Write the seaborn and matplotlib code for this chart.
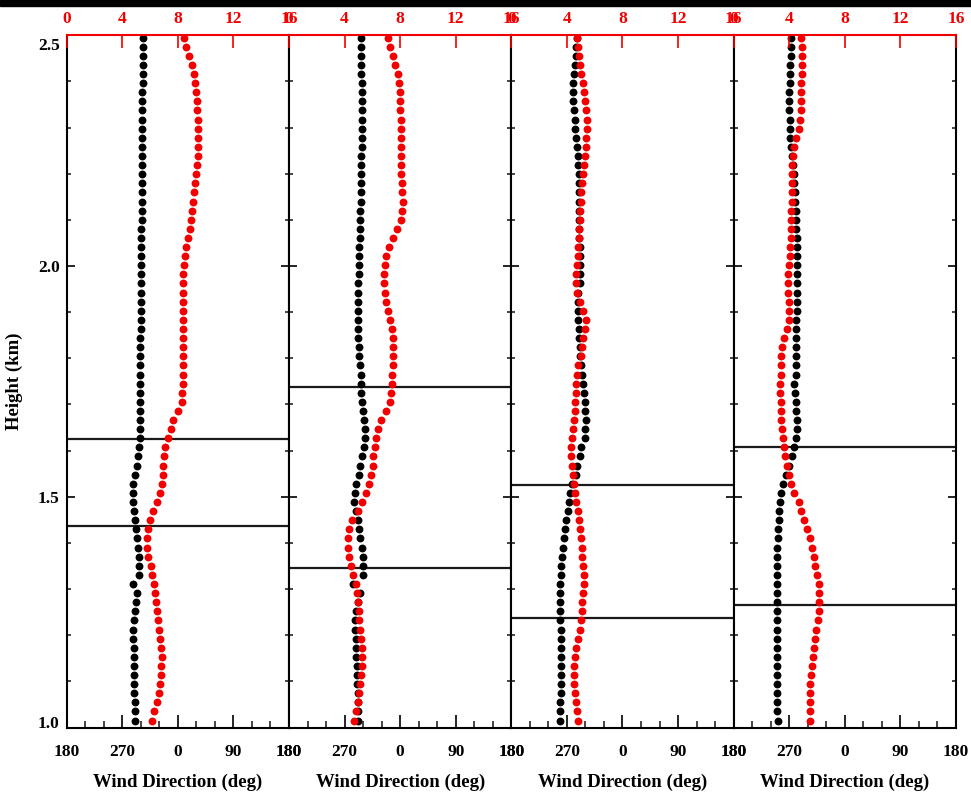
import numpy as np
import pandas as pd
import matplotlib
matplotlib.use("Agg")
import matplotlib.pyplot as plt
from matplotlib.patches import Rectangle
from matplotlib.ticker import FixedLocator, MultipleLocator, NullLocator
from matplotlib.transforms import ScaledTranslation
import seaborn as sns

# ---------------------------------------------------------------------------
# Profile data: four soundings, each listed from the top of the profile
# (about 2.5 km) downward in ~20 m steps.
# ---------------------------------------------------------------------------
heights = np.linspace(2.495, 1.015, 76)

# wind direction (deg, 180..540 axis: 270 = W, 360 = N)
direction_1 = [
    303.1, 303.1, 303.1, 303.1, 303.1, 303.1, 302.6, 302.6, 302.6, 302.6,
    302.6, 302.6, 302.0, 302.0, 302.0, 302.0, 302.0, 301.5, 301.5, 301.5,
    301.5, 301.0, 301.0, 301.0, 301.0, 300.4, 300.4, 300.4, 300.4, 299.9,
    299.9, 299.9, 299.9, 299.3, 299.3, 299.3, 298.8, 298.8,
    298.8, 298.8, 298.8, 298.8, 298.8, 298.8, 298.8, 297.7, 295.0, 293.4,
    290.7, 288.0, 286.9, 286.9, 289.1, 290.7, 292.3, 294.5, 296.1, 297.7,
    297.7, 297.7, 288.0, 293.4, 292.3, 290.7, 289.1, 288.0, 288.0, 289.1,
    289.1, 289.1, 289.6, 289.6, 289.6, 290.2, 290.7, 290.7,
]
direction_2 = [
    297.2, 297.2, 297.2, 297.2, 297.2, 297.7, 297.7, 297.7, 297.7, 297.7,
    297.7, 297.7, 297.7, 297.2, 297.2, 297.2, 297.2, 297.2, 297.2, 295.6,
    295.6, 295.6, 295.6, 293.9, 293.9, 293.9, 293.9, 292.3, 292.3, 292.3,
    292.3, 291.2, 291.2, 291.2, 292.9, 292.9, 294.5, 296.1,
    296.6, 297.2, 298.3, 299.9, 301.5, 302.6, 302.6, 301.0, 298.3, 294.5,
    292.9, 289.1, 287.5, 285.8, 289.1, 291.8, 292.9, 295.6, 298.3, 299.3,
    299.9, 299.9, 284.2, 295.6, 291.2, 289.1, 287.5, 287.5, 288.0, 288.5,
    289.1, 289.6, 290.2, 290.2, 291.2, 291.2, 291.8, 291.2,
]
direction_3 = [
    286.4, 285.3, 284.2, 282.6, 281.0, 279.9, 279.9, 279.9, 281.0, 282.6,
    283.7, 285.3, 286.4, 287.5, 288.5, 289.1, 289.6, 289.6, 289.6, 289.6,
    289.6, 289.6, 290.2, 290.7, 291.2, 291.8, 291.8, 290.7, 288.5, 288.0,
    288.0, 288.5, 289.6, 289.6, 290.7, 291.8, 292.9, 293.9,
    296.1, 297.2, 298.8, 299.9, 300.4, 299.9, 298.8, 292.3, 290.7, 286.9,
    284.2, 278.8, 274.5, 272.9, 271.8, 269.1, 266.9, 265.9, 263.7, 262.1,
    261.0, 260.5, 259.4, 259.4, 259.4, 259.4, 259.4, 259.9, 259.9, 259.9,
    259.9, 259.9, 259.9, 259.9, 259.9, 259.4, 259.4, 259.4,
]
direction_4 = [
    272.9, 273.4, 272.9, 271.8, 271.3, 270.7, 270.2, 270.2, 270.2, 270.7,
    270.7, 271.8, 272.9, 274.5, 276.1, 277.2, 278.3, 279.4, 279.9, 280.4,
    281.0, 281.5, 282.0, 282.6, 282.6, 282.6, 282.6, 282.6, 282.6, 282.6,
    282.0, 281.5, 281.5, 281.0, 280.4, 280.4, 280.4, 280.4,
    278.3, 279.4, 280.4, 281.5, 282.6, 282.6, 281.5, 278.3, 275.0, 270.2,
    264.2, 259.9, 257.2, 255.1, 254.0, 252.9, 251.8, 251.3, 250.2, 250.2,
    250.2, 250.2, 250.2, 250.2, 250.2, 250.2, 250.2, 250.2, 250.2, 250.2,
    250.2, 250.2, 250.2, 250.2, 250.2, 250.2, 250.2, 251.3,
]

# wind speed (m/s)
speed_1 = [
    8.45, 8.59, 8.81, 9.00, 9.17, 9.26, 9.34, 9.38, 9.41, 9.43,
    9.46, 9.48, 9.46, 9.43, 9.38, 9.31, 9.24, 9.17, 9.10, 9.02,
    8.98, 8.86, 8.76, 8.59, 8.50, 8.45, 8.40, 8.38, 8.35, 8.35,
    8.38, 8.40, 8.40, 8.40, 8.40, 8.38, 8.35, 8.35,
    8.35, 8.33, 8.30, 8.04, 7.68, 7.49, 7.27, 7.08, 7.01, 6.96,
    6.94, 6.89, 6.72, 6.48, 6.24, 6.00, 5.83, 5.76, 5.81, 5.88,
    6.05, 6.17, 6.29, 6.36, 6.43, 6.53, 6.60, 6.67, 6.72, 6.79,
    6.84, 6.82, 6.77, 6.72, 6.62, 6.48, 6.29, 6.12,
]
speed_2 = [
    7.10, 7.25, 7.49, 7.66, 7.82, 7.92, 7.97, 8.02, 8.02, 8.04,
    8.04, 8.06, 8.06, 8.06, 8.09, 8.09, 8.11, 8.16, 8.18, 8.16,
    8.04, 7.78, 7.49, 7.20, 7.01, 6.89, 6.84, 6.84, 6.89, 6.98,
    7.13, 7.30, 7.39, 7.46, 7.49, 7.49, 7.46, 7.42,
    7.44, 7.37, 7.25, 7.01, 6.62, 6.41, 6.26, 6.17, 6.07, 6.02,
    5.93, 5.76, 5.54, 5.23, 4.94, 4.56, 4.34, 4.25, 4.22, 4.30,
    4.44, 4.61, 4.85, 4.92, 4.97, 5.02, 5.06, 5.14, 5.18, 5.23,
    5.26, 5.26, 5.21, 5.14, 5.06, 4.99, 4.85, 4.66,
]
speed_3 = [
    4.75, 4.80, 4.87, 4.97, 5.04, 5.16, 5.23, 5.33, 5.40, 5.45,
    5.45, 5.40, 5.35, 5.28, 5.21, 5.16, 5.11, 5.04, 4.99, 4.97,
    4.92, 4.87, 4.85, 4.82, 4.80, 4.75, 4.68, 4.63, 4.73, 4.92,
    5.16, 5.35, 5.28, 5.16, 5.09, 4.99, 4.82, 4.73,
    4.68, 4.63, 4.58, 4.56, 4.49, 4.44, 4.39, 4.32, 4.32, 4.37,
    4.44, 4.49, 4.56, 4.68, 4.80, 4.87, 4.92, 4.99, 5.06, 5.11,
    5.16, 5.21, 5.21, 5.16, 5.11, 5.09, 5.04, 4.92, 4.80, 4.68,
    4.56, 4.51, 4.51, 4.54, 4.58, 4.63, 4.73, 4.82,
]
speed_4 = [
    4.85, 4.90, 4.90, 4.90, 4.90, 4.87, 4.87, 4.87, 4.85, 4.80,
    4.68, 4.51, 4.37, 4.27, 4.22, 4.20, 4.20, 4.18, 4.18, 4.15,
    4.15, 4.13, 4.13, 4.08, 4.03, 3.98, 3.94, 3.91, 3.94, 3.98,
    4.01, 3.96, 3.84, 3.60, 3.48, 3.43, 3.41, 3.41,
    3.36, 3.36, 3.38, 3.41, 3.43, 3.48, 3.55, 3.65, 3.72, 3.84,
    3.96, 4.13, 4.37, 4.68, 4.85, 5.09, 5.28, 5.47, 5.64, 5.76,
    5.88, 6.00, 6.12, 6.17, 6.17, 6.12, 6.05, 5.93, 5.83, 5.76,
    5.69, 5.64, 5.59, 5.52, 5.52, 5.52, 5.52, 5.47,
]

# layer boundaries (km) marked in each profile
layers_1 = [1.625, 1.436]
layers_2 = [1.737, 1.345]
layers_3 = [1.525, 1.237]
layers_4 = [1.608, 1.265]

direction_ticks = [180, 270, 360, 450, 540]
direction_labels = ["180", "270", "0", "90", "180"]
speed_ticks = [0, 4, 8, 12, 16]
speed_labels = ["0", "4", "8", "12", "16"]
height_ticks = [1.0, 1.5, 2.0, 2.5]
height_labels = ["1.0", "1.5", "2.0", "2.5"]

directions = [direction_1, direction_2, direction_3, direction_4]
speeds = [speed_1, speed_2, speed_3, speed_4]
layers = [layers_1, layers_2, layers_3, layers_4]

# ---------------------------------------------------------------------------
sns.set_theme(style="white")
plt.rcParams["font.family"] = ["Liberation Serif", "DejaVu Serif"]
plt.rcParams["font.weight"] = "bold"

RED = "#f20000"
FS_TICK = 12.5
FS_LABEL = 13.5
DOT = 32

W, H = 971, 792
fig = plt.figure(figsize=(W / 100, H / 100), dpi=100)
fig.patch.set_facecolor("white")

left0, panel_w = 66.7, 222.3
top_px, bottom_px = 35.3, 727.5

for i in range(4):
    rect = [(left0 + i * panel_w) / W, (H - bottom_px) / H,
            panel_w / W, (bottom_px - top_px) / H]
    ax = fig.add_axes(rect)
    df = pd.DataFrame({"height": heights,
                       "direction": directions[i],
                       "speed": speeds[i]})

    for h in layers[i]:
        ax.axhline(h, color="#1a1a1a", lw=1.6, zorder=2)

    sns.scatterplot(data=df, x="direction", y="height", ax=ax,
                    color="black", s=DOT, linewidth=0, legend=False, zorder=3)

    ax2 = ax.twiny()
    sns.scatterplot(data=df, x="speed", y="height", ax=ax2,
                    color=RED, s=DOT, linewidth=0, legend=False, zorder=3)

    ax.set_xlim(180, 540)
    ax2.set_xlim(0, 16)
    ax.set_ylim(1.0, 2.5)
    ax.set_facecolor("white")

    # spines
    for side in ("left", "right", "bottom"):
        ax.spines[side].set_visible(True)
        ax.spines[side].set_color("black")
        ax.spines[side].set_linewidth(1.5)
    ax.spines["top"].set_visible(False)
    for side in ("left", "right", "bottom"):
        ax2.spines[side].set_visible(False)
    ax2.spines["top"].set_visible(True)
    ax2.spines["top"].set_color(RED)
    ax2.spines["top"].set_linewidth(1.5)

    # wind-direction axis (bottom)
    ax.xaxis.set_major_locator(FixedLocator(direction_ticks))
    ax.set_xticklabels(direction_labels)
    ax.xaxis.set_minor_locator(MultipleLocator(30))
    ax.tick_params(axis="x", which="major", direction="in", length=9.5,
                   width=1.2, bottom=True, top=False, pad=12,
                   labelsize=FS_TICK, colors="black")
    ax.tick_params(axis="x", which="minor", direction="in", length=5,
                   width=1.2, bottom=True, top=False)

    # height axis
    ax.yaxis.set_major_locator(FixedLocator(height_ticks))
    ax.set_yticklabels(height_labels)
    ax.yaxis.set_minor_locator(MultipleLocator(0.1))
    ax.tick_params(axis="y", which="major", direction="in", length=5.5,
                   width=1.2, left=True, right=True, labelleft=(i == 0),
                   pad=5, labelsize=FS_TICK, colors="black")
    ax.tick_params(axis="y", which="minor", direction="in", length=3,
                   width=1.2, left=True, right=True)

    # wind-speed axis (top, red)
    ax2.xaxis.set_major_locator(FixedLocator(speed_ticks))
    ax2.set_xticklabels(speed_labels)
    ax2.xaxis.set_minor_locator(NullLocator())
    ax2.tick_params(axis="x", which="major", direction="in", length=9,
                    width=1.2, top=True, bottom=False, pad=6,
                    labelsize=FS_TICK, colors=RED)

    ax.set_xlabel("Wind Direction (deg)", fontsize=FS_LABEL,
                  fontweight="bold", labelpad=10, color="black")
    ax2.set_xlabel("")
    ax2.set_ylabel("")
    if i == 0:
        ax.set_ylabel("Height (km)", fontsize=FS_LABEL, fontweight="bold",
                      labelpad=11, color="black")
        ticks = ax.yaxis.get_major_ticks()
        # end labels sit just inside the frame
        lab_top = ticks[3].label1
        lab_top.set_transform(lab_top.get_transform() +
                              ScaledTranslation(0, -0.09, fig.dpi_scale_trans))
        lab_bot = ticks[0].label1
        lab_bot.set_transform(lab_bot.get_transform() +
                              ScaledTranslation(0, 0.05, fig.dpi_scale_trans))
    else:
        ax.set_ylabel("")

# dark strip along the top edge
fig.add_artist(Rectangle((0, 1 - 5.5 / H), 1, 5.5 / H,
                         transform=fig.transFigure, color="black", zorder=10))

fig.savefig("out.png", dpi=100, facecolor="white")
